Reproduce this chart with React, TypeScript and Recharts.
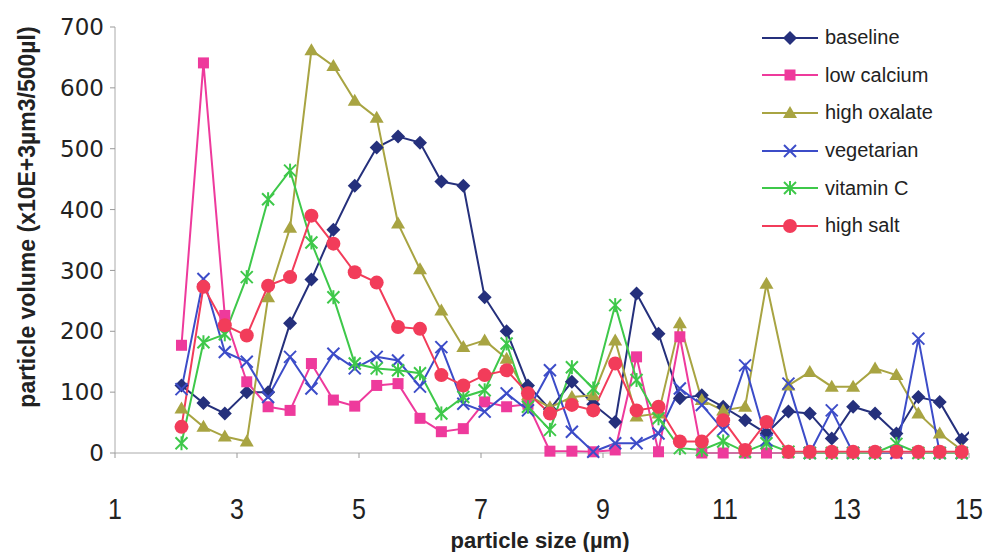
import { LineChart, Line, XAxis, YAxis, Label } from 'recharts'

const FONT = '"Liberation Sans", Arial, sans-serif'

// particle size bins (µm); last one only used by baseline, it runs off the plot edge
const sizes = [
  2.09, 2.45, 2.8, 3.16, 3.51, 3.87, 4.22, 4.58, 4.93, 5.29, 5.64, 6.0, 6.35, 6.71, 7.06, 7.42, 7.77, 8.13, 8.49,
  8.84, 9.2, 9.55, 9.91, 10.26, 10.62, 10.97, 11.33, 11.68, 12.04, 12.39, 12.75, 13.1, 13.46, 13.81, 14.17, 14.52,
  14.88, 15.23,
]

const baseline = [
  111, 82, 65, 100, 100, 213, 285, 367, 439, 502, 520, 510, 446, 439, 256, 200, 111, 72, 117, 80, 51, 262, 196, 90,
  95, 76, 54, 32, 68, 65, 24, 76, 65, 32, 92, 84, 22, 57,
]
const lowCalcium = [
  177, 641, 226, 117, 76, 70, 147, 87, 77, 111, 114, 57, 35, 40, 84, 76, 80, 3, 3, 2, 5, 158, 2, 191, 0, 0, 0, 0, 0,
  0, 0, 0, 0, 0, 0, 0, 0,
]
const highOxalate = [
  73, 43, 27, 19, 256, 370, 662, 636, 579, 551, 377, 302, 234, 174, 185, 155, 95, 75, 92, 95, 185, 60, 65, 213, 87,
  70, 76, 278, 111, 133, 109, 109, 139, 128, 65, 32, 5,
]
const vegetarian = [
  105, 286, 166, 150, 92, 158, 106, 163, 139, 158, 152, 109, 174, 81, 68, 98, 70, 136, 35, 2, 16, 16, 32, 106, 79,
  38, 144, 21, 114, 0, 70, 0, 0, 0, 188, 0, 0,
]
const vitaminC = [
  16, 182, 195, 289, 417, 464, 346, 256, 147, 139, 136, 131, 65, 92, 103, 180, 76, 38, 141, 106, 243, 120, 57, 8, 5,
  19, 2, 16, 2, 0, 0, 0, 0, 15, 0, 0, 0,
]
const highSalt = [
  43, 273, 210, 193, 275, 289, 390, 344, 297, 280, 207, 204, 128, 111, 128, 136, 98, 65, 79, 70, 147, 70, 76, 19,
  19, 54, 5, 51, 2, 2, 2, 2, 2, 2, 2, 2, 2,
]

const xTicks = [1, 3, 5, 7, 9, 11, 13, 15]
const yTicks = [0, 100, 200, 300, 400, 500, 600, 700]

type Shape = 'diamond' | 'square' | 'triangle' | 'cross' | 'star' | 'circle'

const series: { key: string; name: string; color: string; shape: Shape; values: number[] }[] = [
  { key: 'baseline', name: 'baseline', color: '#25307c', shape: 'diamond', values: baseline },
  { key: 'lowCalcium', name: 'low calcium', color: '#ee3a9c', shape: 'square', values: lowCalcium },
  { key: 'highOxalate', name: 'high oxalate', color: '#a8a442', shape: 'triangle', values: highOxalate },
  { key: 'vegetarian', name: 'vegetarian', color: '#3c4cc8', shape: 'cross', values: vegetarian },
  { key: 'vitaminC', name: 'vitamin C', color: '#3ec84a', shape: 'star', values: vitaminC },
  { key: 'highSalt', name: 'high salt', color: '#f23c5a', shape: 'circle', values: highSalt },
]

const rows = sizes.map((size, i) => {
  const row: Record<string, number | null> = { size }
  series.forEach((s) => {
    row[s.key] = i < s.values.length ? s.values[i] : null
  })
  return row
})

function Marker({ cx, cy, shape, color }: { cx: number; cy: number; shape: Shape; color: string }) {
  switch (shape) {
    case 'diamond':
      return <polygon points={`${cx},${cy - 7} ${cx + 7},${cy} ${cx},${cy + 7} ${cx - 7},${cy}`} fill={color} />
    case 'square':
      return <rect x={cx - 5.5} y={cy - 5.5} width={11} height={11} fill={color} />
    case 'triangle':
      return <polygon points={`${cx},${cy - 7} ${cx + 7},${cy + 5} ${cx - 7},${cy + 5}`} fill={color} />
    case 'cross':
      return (
        <g stroke={color} strokeWidth={2}>
          <line x1={cx - 6} y1={cy - 6} x2={cx + 6} y2={cy + 6} />
          <line x1={cx - 6} y1={cy + 6} x2={cx + 6} y2={cy - 6} />
        </g>
      )
    case 'star':
      return (
        <g stroke={color} strokeWidth={2}>
          <line x1={cx - 6} y1={cy - 6} x2={cx + 6} y2={cy + 6} />
          <line x1={cx - 6} y1={cy + 6} x2={cx + 6} y2={cy - 6} />
          <line x1={cx} y1={cy - 7} x2={cx} y2={cy + 7} />
        </g>
      )
    default:
      return <circle cx={cx} cy={cy} r={7} fill={color} />
  }
}

// x tick labels in the scan are a bit tall and narrow
function XTick({ x, payload }: any) {
  return (
    <text
      transform={`translate(${x},519) scale(1,1.15)`}
      textAnchor="middle"
      fontSize={25}
      fill="#222"
      fontFamily={FONT}
    >
      {payload.value}
    </text>
  )
}

function LegendBox() {
  return (
    <div style={{ position: 'absolute', left: 760, top: 19, fontFamily: FONT }}>
      {series.map((s) => (
        <div key={s.key} style={{ display: 'flex', alignItems: 'center', height: 37.6 }}>
          <svg width={60} height={20}>
            <line x1={2} y1={10} x2={58} y2={10} stroke={s.color} strokeWidth={2} />
            <Marker cx={30} cy={10} shape={s.shape} color={s.color} />
          </svg>
          <span style={{ fontSize: 20, color: '#222', marginLeft: 5 }}>{s.name}</span>
        </div>
      ))}
    </div>
  )
}

export default function App() {
  return (
    <div style={{ position: 'absolute', left: 0, top: 0, width: 989, height: 552, background: '#fff' }}>
      <LineChart width={989} height={552} data={rows} margin={{ top: 27, right: 20, bottom: 39, left: 40 }}>
        <XAxis
          dataKey="size"
          type="number"
          domain={[1, 15]}
          ticks={xTicks}
          interval={0}
          allowDataOverflow
          tick={<XTick />}
          tickLine={{ stroke: '#999' }}
          tickSize={5}
          axisLine={{ stroke: '#aaa' }}
          height={60}
        >
          <Label
            content={() => (
              <text x={540} y={548} textAnchor="middle" fontWeight="bold" fontSize={22} fill="#222" fontFamily={FONT}>
                particle size (µm)
              </text>
            )}
          />
        </XAxis>
        <YAxis
          type="number"
          domain={[0, 700]}
          ticks={yTicks}
          interval={0}
          tick={{ fontSize: 23, fill: '#222', fontFamily: '"DejaVu Sans", sans-serif' }}
          tickLine={{ stroke: '#999' }}
          tickSize={5}
          tickMargin={6}
          axisLine={{ stroke: '#aaa' }}
          width={75}
        >
          <Label
            content={() => (
              <text
                x={27}
                y={217}
                transform="rotate(-90 27 217)"
                textAnchor="middle"
                dominantBaseline="central"
                fontWeight="bold"
                fontSize={23}
                fill="#222"
                fontFamily={FONT}
              >
                particle volume (x10E+3µm3/500µl)
              </text>
            )}
          />
        </YAxis>
        {series.map((s) => (
          <Line
            key={s.key}
            dataKey={s.key}
            name={s.name}
            stroke={s.color}
            strokeWidth={2}
            isAnimationActive={false}
            dot={(p: any) =>
              p.cy == null || p.cx == null ? (
                <g key={p.key ?? p.index} />
              ) : (
                <g key={p.key ?? p.index}>
                  <Marker cx={p.cx} cy={p.cy} shape={s.shape} color={s.color} />
                </g>
              )
            }
            activeDot={false}
          />
        ))}
      </LineChart>
      <LegendBox />
    </div>
  )
}
